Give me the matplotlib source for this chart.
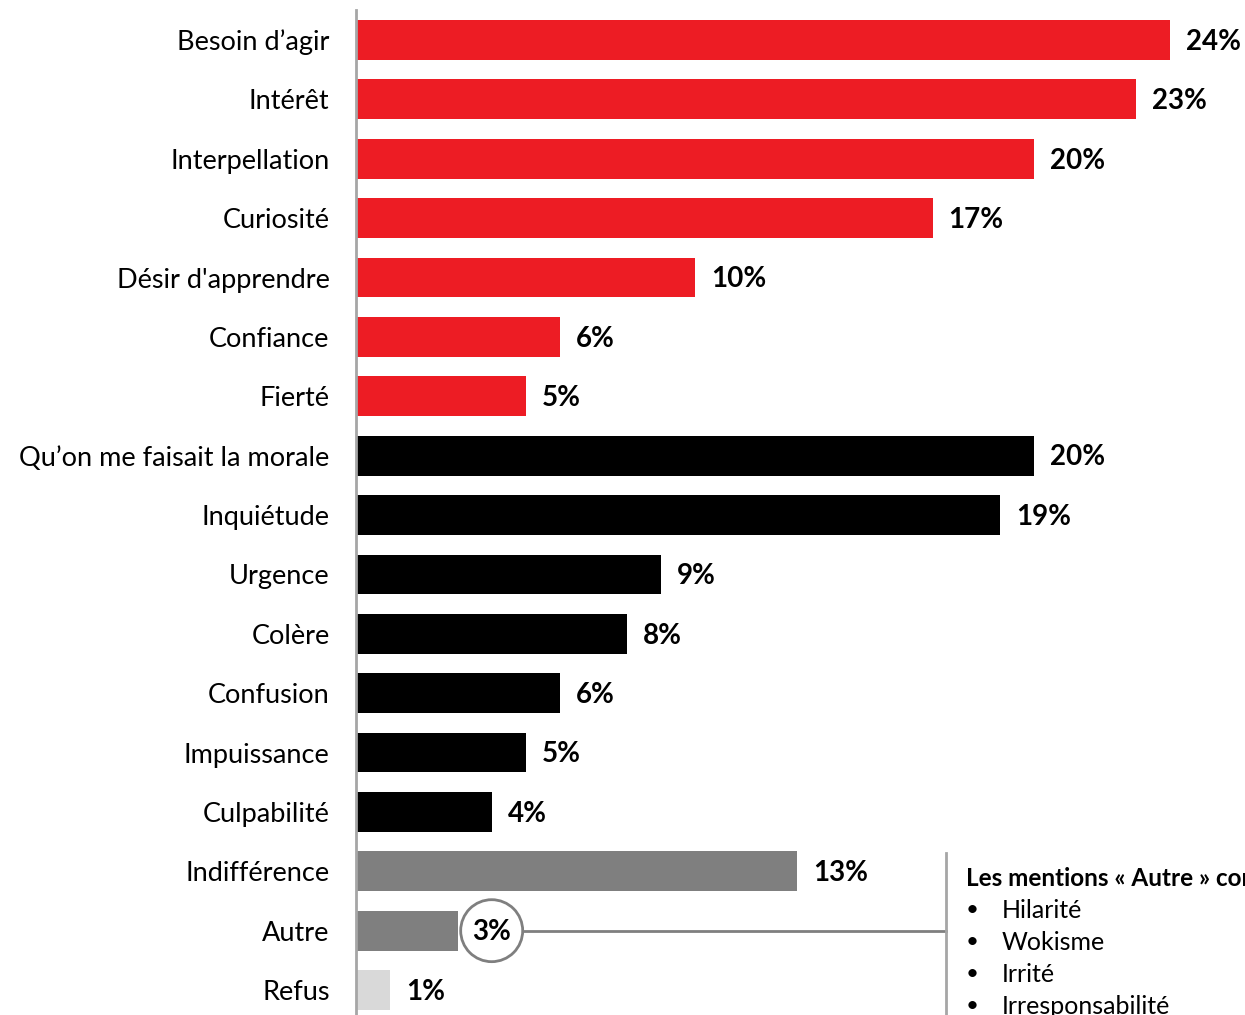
import matplotlib.pyplot as plt
from matplotlib.patches import Ellipse

# Données
categories = [
    "Besoin d’agir", "Intérêt", "Interpellation", "Curiosité",
    "Désir d'apprendre", "Confiance", "Fierté",
    "Qu’on me faisait la morale", "Inquiétude", "Urgence", "Colère",
    "Confusion", "Impuissance", "Culpabilité",
    "Indifférence", "Autre", "Refus",
]
values = [24, 23, 20, 17, 10, 6, 5, 20, 19, 9, 8, 6, 5, 4, 13, 3, 1]
groups = ["pos"] * 7 + ["neg"] * 7 + ["neutre", "neutre", "refus"]
autre_mentions = ["Hilarité", "Wokisme", "Irrité", "Irresponsabilité"]
autre_titre = "Les mentions « Autre » comprennent :"

COLORS = {"pos": "#ED1C24", "neg": "#000000", "neutre": "#7F7F7F", "refus": "#D9D9D9"}
FONT = "Lato"

W, H = 1245, 1015
fig = plt.figure(figsize=(W / 100, H / 100), dpi=100)
ax = fig.add_axes([356 / W, 0, 1 - 356 / W, 1 - 10 / H])

ypos = list(range(len(categories)))
ax.barh(ypos, values, height=0.67, color=[COLORS[g] for g in groups])

ax.set_xlim(0, (W - 356) / 33.92)
ax.set_ylim(16.42, -0.505)

ax.set_yticks(ypos)
ax.set_yticklabels(categories, fontsize=19.5, family=FONT)
ax.tick_params(axis="y", length=0, pad=19)
ax.set_xticks([])
for s in ["top", "right", "bottom"]:
    ax.spines[s].set_visible(False)
ax.spines["left"].set_color("#A6A6A6")
ax.spines["left"].set_linewidth(2)

# Étiquettes de valeurs
for y, v in zip(ypos, values):
    if categories[y] == "Autre":
        continue
    ax.text(v + 0.47, y + 0.03, f"{v}%", va="center", ha="left",
            fontsize=20, fontweight="bold", family=FONT)

# Encadré "Autre" : cercle autour de la valeur et renvoi vers la liste
i_autre = categories.index("Autre")
v_autre = values[i_autre]
cx = v_autre + 1.0
ax.add_patch(Ellipse((cx, i_autre), 62 / 33.92, 62 / 59.4, facecolor="white",
                     edgecolor="#7F7F7F", linewidth=2, zorder=3))
ax.text(cx, i_autre + 0.03, f"{v_autre}%", va="center", ha="center",
        fontsize=20, fontweight="bold", family=FONT, zorder=4)
x_sep = (946 - 356) / 33.92
ax.plot([cx + 31 / 33.92, x_sep], [i_autre, i_autre], color="#7F7F7F", lw=2)
ax.plot([x_sep, x_sep], [13.69, 17], color="#A6A6A6", lw=2)

# Liste des mentions
fig.text(966 / W, 1 - 878 / H, autre_titre, fontsize=17.5, fontweight="bold",
         family=FONT, va="center", ha="left")
for k, m in enumerate(autre_mentions):
    yy = 1 - (910 + 32 * k) / H
    fig.text(966 / W, yy, "•", fontsize=16, family=FONT, va="center", ha="left")
    fig.text(1002 / W, yy, m, fontsize=18, family=FONT, va="center", ha="left")

fig.savefig("out.png", dpi=100)
